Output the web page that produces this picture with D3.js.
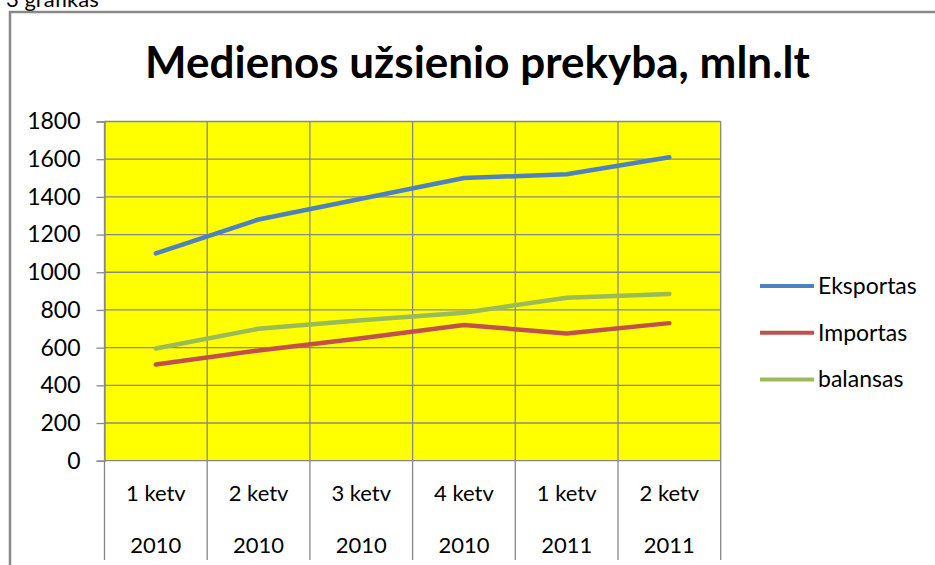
<!DOCTYPE html>
<html>
<head>
<meta charset="utf-8">
<script src="https://cdn.jsdelivr.net/npm/d3@7"></script>
<style>
  body { margin: 0; background: #fff; }
  text { font-family: Lato, "Noto Sans", sans-serif; fill: #000; }
</style>
</head>
<body>
<div id="chart"></div>
<script>
// data
var quarters = ["1 ketv", "2 ketv", "3 ketv", "4 ketv", "1 ketv", "2 ketv"];
var years = ["2010", "2010", "2010", "2010", "2011", "2011"];
var eksportas = [1100, 1280, 1390, 1500, 1520, 1610];
var importas = [510, 585, 650, 720, 675, 730];
var balansas = [595, 700, 745, 785, 865, 885];
var yTicks = [0, 200, 400, 600, 800, 1000, 1200, 1400, 1600, 1800];

var series = [
  { name: "Eksportas", values: eksportas, color: "#4f81bd" },
  { name: "Importas", values: importas, color: "#c0504d" },
  { name: "balansas", values: balansas, color: "#9bbb59" }
];

var width = 935, height = 565;
var plot = { left: 104.5, right: 720.7, top: 121.5, bottom: 460.7 };
var gridColor = "#888888";

var svg = d3.select("#chart").append("svg")
    .attr("width", width)
    .attr("height", height);

// caption above the chart, cut by the page top like in the source
svg.append("text")
  .attr("x", 6)
  .attr("y", 7)
  .style("font-size", "22px")
  .text("3 grafikas");

// outer chart frame (runs off right and bottom)
svg.append("rect")
  .attr("x", 10)
  .attr("y", 12)
  .attr("width", 1000)
  .attr("height", 700)
  .attr("fill", "#fff")
  .attr("stroke", gridColor)
  .attr("stroke-width", 2.5);

svg.append("text")
  .attr("x", 477.5)
  .attr("y", 78)
  .attr("text-anchor", "middle")
  .style("font-size", "44px")
  .style("font-weight", "bold")
  .text("Medienos užsienio prekyba, mln.lt");

var x = d3.scaleBand()
  .domain(d3.range(quarters.length))
  .range([plot.left, plot.right]);

var y = d3.scaleLinear()
  .domain([0, 1800])
  .range([plot.bottom, plot.top]);

// plot background
svg.append("rect")
  .attr("x", plot.left)
  .attr("y", plot.top)
  .attr("width", plot.right - plot.left)
  .attr("height", plot.bottom - plot.top)
  .attr("fill", "#ffff00");

// horizontal gridlines
svg.append("g").selectAll("line")
    .data(yTicks)
  .enter().append("line")
    .attr("x1", plot.left)
    .attr("x2", plot.right)
    .attr("y1", function(d) { return y(d); })
    .attr("y2", function(d) { return y(d); })
    .attr("stroke", gridColor)
    .attr("stroke-width", 1.3);

// vertical gridlines, carried down as category separators
var bounds = d3.range(quarters.length + 1).map(function(i) {
  return plot.left + i * x.bandwidth();
});
svg.append("g").selectAll("line")
    .data(bounds)
  .enter().append("line")
    .attr("x1", function(d) { return d; })
    .attr("x2", function(d) { return d; })
    .attr("y1", plot.top)
    .attr("y2", 560)
    .attr("stroke", gridColor)
    .attr("stroke-width", 1.3);

// y axis
var yAxis = svg.append("g")
  .attr("transform", "translate(" + plot.left + ",0)")
  .call(d3.axisLeft(y).tickValues(yTicks).tickSize(8).tickPadding(16).tickFormat(d3.format("d")));
yAxis.select(".domain").attr("stroke", gridColor).attr("stroke-width", 1.3);
yAxis.selectAll(".tick line").attr("stroke", gridColor).attr("stroke-width", 1.3);
yAxis.selectAll(".tick text")
  .attr("fill", "#000")
  .style("font-size", "23px")
  .style("font-family", "Lato, 'Noto Sans', sans-serif");

// category labels, two rows
svg.append("g").selectAll("text")
    .data(quarters)
  .enter().append("text")
    .attr("x", function(d, i) { return x(i) + x.bandwidth() / 2; })
    .attr("y", 493)
    .attr("dy", "0.35em")
    .attr("text-anchor", "middle")
    .style("font-size", "22px")
    .text(function(d) { return d; });

svg.append("g").selectAll("text")
    .data(years)
  .enter().append("text")
    .attr("x", function(d, i) { return x(i) + x.bandwidth() / 2; })
    .attr("y", 545)
    .attr("dy", "0.35em")
    .attr("text-anchor", "middle")
    .style("font-size", "22px")
    .text(function(d) { return d; });

// series lines
var line = d3.line()
  .x(function(d, i) { return x(i) + x.bandwidth() / 2; })
  .y(function(d) { return y(d); });

svg.append("g").selectAll("path")
    .data(series)
  .enter().append("path")
    .attr("d", function(s) { return line(s.values); })
    .attr("fill", "none")
    .attr("stroke", function(s) { return s.color; })
    .attr("stroke-width", 4.5)
    .attr("stroke-linecap", "round")
    .attr("stroke-linejoin", "round");

// legend
var legend = svg.append("g").selectAll("g")
    .data(series)
  .enter().append("g")
    .attr("transform", function(d, i) { return "translate(760," + (286 + i * 46.7) + ")"; });

legend.append("line")
  .attr("x1", 0)
  .attr("x2", 54)
  .attr("stroke", function(d) { return d.color; })
  .attr("stroke-width", 4);

legend.append("text")
  .attr("x", 58)
  .attr("dy", "0.35em")
  .style("font-size", "23px")
  .text(function(d) { return d.name; });
</script>
</body>
</html>
